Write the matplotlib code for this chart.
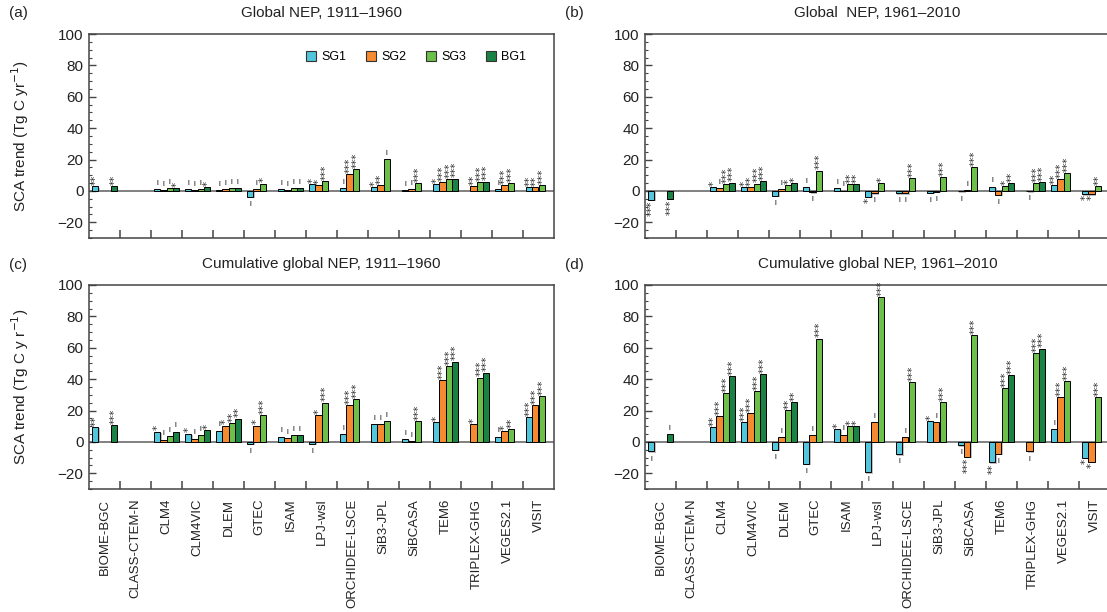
import matplotlib
matplotlib.use("Agg")
import matplotlib.pyplot as plt
import numpy as np
from matplotlib import patheffects as pe
from matplotlib.patches import Patch
from matplotlib.ticker import MultipleLocator

plt.rcParams['font.family'] = ['Liberation Sans', 'DejaVu Sans']

nan = np.nan

models = ["BIOME-BGC", "CLASS-CTEM-N", "CLM4", "CLM4VIC", "DLEM", "GTEC", "ISAM",
          "LPJ-wsl", "ORCHIDEE-LSCE", "SiB3-JPL", "SiBCASA", "TEM6", "TRIPLEX-GHG",
          "VEGES2.1", "VISIT"]
series = ["SG1", "SG2", "SG3", "BG1"]
colors = ["#52c6dc", "#f68a30", "#6cbf48", "#1b8246"]

# (a) Global NEP, 1911-1960
a_sg1 = [3.0, nan, 1.3, 1.3, 0.4, -3.6, 1.0, 4.3, 1.7, 2.4, 0.4, 4.3, nan, 1.3, 2.5]
a_sg2 = [nan, nan, 0.4, 0.6, 1.3, 1.3, 0.4, 4.0, 10.7, 3.6, 1.3, 5.6, 3.1, 4.0, 2.5]
a_sg3 = [nan, nan, 1.7, 1.3, 1.9, 4.7, 1.7, 6.3, 13.7, 20.5, 5.0, 7.4, 5.6, 4.9, 3.8]
a_bg1 = [3.0, nan, 2.1, 2.3, 1.9, nan, 1.7, nan, nan, nan, nan, 7.9, 6.0, nan, nan]
a_sg1_sig = ["**", "", "|", "|", "|", "|", "|", "*", "|", "*", "|", "*", "", "|", "**"]
a_sg2_sig = ["", "", "|", "|", "|", "|", "|", "*", "***", "**", "|", "***", "**", "***", "**"]
a_sg3_sig = ["", "", "|", "|", "|", "*", "|", "***", "***", "|", "***", "***", "***", "***", "***"]
a_bg1_sig = ["**", "", "*", "*", "|", "", "|", "", "", "", "", "***", "***", "", ""]

# (b) Global NEP, 1961-2010
b_sg1 = [-5.5, nan, 2.5, 2.5, -3.0, 2.3, 1.7, -3.6, -1.5, -1.1, -0.3, 2.8, nan, 3.6, -2.1]
b_sg2 = [nan, nan, 1.7, 2.5, 1.1, -0.8, 0.2, -1.5, -1.5, -0.6, 0.6, -2.5, -0.2, 7.6, -2.1]
b_sg3 = [nan, nan, 4.5, 4.7, 4.0, 13.0, 4.2, 5.1, 8.3, 8.9, 15.3, 3.2, 5.1, 11.5, 3.0]
b_bg1 = [-5.1, nan, 5.3, 6.4, 5.1, nan, 4.2, nan, nan, nan, nan, 5.1, 5.7, nan, nan]
b_sg1_sig = ["***", "", "*", "*", "|", "|", "|", "*", "|", "|", "|", "|", "", "**", "*"]
b_sg2_sig = ["", "", "|", "**", "|", "|", "|", "|", "|", "|", "|", "|", "|", "***", "*"]
b_sg3_sig = ["", "", "***", "***", "*", "***", "**", "*", "***", "***", "***", "*", "***", "***", "**"]
b_bg1_sig = ["***", "", "***", "***", "*", "", "**", "", "", "", "", "**", "***", "", ""]

# (c) Cumulative global NEP, 1911-1960
c_sg1 = [9.6, nan, 6.6, 5.3, 7.2, -1.1, 3.4, -1.1, 4.9, 11.3, 1.9, 12.5, nan, 3.4, 16.0]
c_sg2 = [nan, nan, 1.5, 2.1, 10.4, 10.4, 2.3, 17.4, 23.4, 11.3, 0.6, 39.3, 11.3, 6.8, 23.4]
c_sg3 = [nan, nan, 3.8, 4.5, 12.3, 17.4, 4.5, 25.1, 27.4, 13.4, 13.4, 48.6, 41.0, 8.3, 29.4]
c_bg1 = [11.0, nan, 6.6, 7.4, 14.9, nan, 4.5, nan, nan, nan, nan, 51.2, 44.2, nan, nan]
c_sg1_sig = ["**", "", "*", "*", "|", "|", "|", "|", "|", "|", "|", "*", "", "|", "***"]
c_sg2_sig = ["", "", "|", "|", "*", "*", "|", "*", "***", "|", "|", "***", "*", "*", "***"]
c_sg3_sig = ["", "", "|", "|", "**", "***", "|", "***", "***", "|", "***", "***", "***", "**", "***"]
c_bg1_sig = ["***", "", "|", "*", "**", "", "|", "", "", "", "", "***", "***", "", ""]

# (d) Cumulative global NEP, 1961-2010
d_sg1 = [-6.1, nan, 9.5, 12.9, -4.9, -13.8, 8.3, -19.3, -7.8, 13.3, -2.1, -12.9, nan, 8.1, -10.2]
d_sg2 = [nan, nan, 16.5, 18.4, 3.2, 4.4, 4.7, 12.5, 3.2, 12.5, -9.5, -7.4, -6.1, 28.4, -12.5]
d_sg3 = [nan, nan, 30.9, 32.4, 20.3, 65.9, 10.2, 92.4, 38.1, 25.4, 68.0, 34.5, 56.6, 38.8, 28.4]
d_bg1 = [4.9, nan, 41.9, 43.0, 25.4, nan, 10.2, nan, nan, nan, nan, 42.4, 59.5, nan, nan]
d_sg1_sig = ["|", "", "**", "***", "|", "|", "*", "|", "|", "*", "|", "**", "", "|", "*"]
d_sg2_sig = ["", "", "***", "***", "|", "|", "|", "|", "|", "|", "***", "|", "|", "***", "*"]
d_sg3_sig = ["", "", "***", "***", "**", "***", "*", "***", "***", "***", "***", "***", "***", "***", "***"]
d_bg1_sig = ["|", "", "***", "***", "**", "", "*", "", "", "", "", "***", "***", "", ""]

panels = [
    ("(a)", "Global NEP, 1911\u20131960", [a_sg1, a_sg2, a_sg3, a_bg1],
     [a_sg1_sig, a_sg2_sig, a_sg3_sig, a_bg1_sig], "SCA trend (Tg C yr$^{-1}$)"),
    ("(b)", "Global  NEP, 1961\u20132010", [b_sg1, b_sg2, b_sg3, b_bg1],
     [b_sg1_sig, b_sg2_sig, b_sg3_sig, b_bg1_sig], None),
    ("(c)", "Cumulative global NEP, 1911\u20131960", [c_sg1, c_sg2, c_sg3, c_bg1],
     [c_sg1_sig, c_sg2_sig, c_sg3_sig, c_bg1_sig], "SCA trend (Tg C y r$^{-1}$)"),
    ("(d)", "Cumulative global NEP, 1961\u20132010", [d_sg1, d_sg2, d_sg3, d_bg1],
     [d_sg1_sig, d_sg2_sig, d_sg3_sig, d_bg1_sig], None),
]

W, H = 1107, 612
fig = plt.figure(figsize=(W / 100, H / 100), dpi=100)

# axes boxes in pixels: left, top
boxes = [(89, 34), (645, 34), (89, 285), (645, 285)]
aw, ah = 465, 204

shadow = [pe.SimplePatchShadow(offset=(1.0, -1.0), shadow_rgbFace='0.55', alpha=0.55), pe.Normal()]
spine_col = '#444444'


def mark(ax, x, v, s):
    if not s or np.isnan(v):
        return
    up = v >= 0
    if s == "|":
        ax.annotate("|", (x, v), xytext=(0, 3 if up else -3), textcoords="offset points",
                    ha="center", va="bottom" if up else "top", fontsize=4.5,
                    fontweight="bold", color="#111111")
    else:
        ax.annotate(s, (x, v), xytext=(0.6, 0.8 if up else -0.8), textcoords="offset points",
                    rotation=90, ha="center", va="bottom" if up else "top",
                    fontsize=7.5, family="DejaVu Sans", color="#333333")


n = len(models)
centers = np.arange(n) + 0.5
bw = 0.2

for k, (letter, title, vals, sigs, ylab) in enumerate(panels):
    l, t = boxes[k]
    ax = fig.add_axes([l / W, 1 - (t + ah) / H, aw / W, ah / H])
    ax.axhline(0, color='#808080', lw=1.4, zorder=1)
    for i in range(4):
        v = np.array(vals[i], dtype=float)
        x = centers + (i - 1.5) * bw
        ok = ~np.isnan(v)
        ax.bar(x[ok], v[ok], width=bw, color=colors[i], edgecolor='black',
               linewidth=0.7, zorder=2, path_effects=shadow)
        for j in range(n):
            mark(ax, x[j], v[j], sigs[i][j])

    ax.set_xlim(0, n)
    ax.set_ylim(-30, 100)
    ax.set_yticks([-20, 0, 20, 40, 60, 80, 100])
    ax.yaxis.set_minor_locator(MultipleLocator(5))
    ax.tick_params(axis='y', which='major', direction='in', length=5, width=1,
                   labelsize=11, pad=4, colors=spine_col, labelcolor='#222222')
    ax.tick_params(axis='y', which='minor', direction='in', length=2.5, width=0.8,
                   colors=spine_col)
    ax.set_xticks(np.arange(1, n))
    ax.tick_params(axis='x', which='major', direction='in', length=6, width=1.1,
                   labelbottom=False, colors=spine_col)
    if k >= 2:
        ax.set_xticks(centers, models, minor=True)
        ax.tick_params(axis='x', which='minor', length=0, pad=7, labelsize=9.5,
                       labelrotation=90, labelcolor='#222222')
    for sp in ax.spines.values():
        sp.set_color(spine_col)
        sp.set_linewidth(1.1)

    ax.set_title(title, fontsize=11, pad=12, color='#222222')
    fig.text((l - 80) / W, 1 - (t - 16.5) / H, letter, fontsize=11, va='baseline',
             color='#222222')
    if ylab:
        ax.set_ylabel(ylab, fontsize=11, color='#222222')
        ax.yaxis.set_label_coords(-0.125, 0.5)

    if k == 0:
        handles = [Patch(facecolor=c, edgecolor='#333333', linewidth=0.8) for c in colors]
        ax.legend(handles, series, ncol=4, loc='center right', bbox_to_anchor=(0.94, 0.887),
                  frameon=False, handlelength=0.8, handleheight=0.8, handletextpad=0.4,
                  columnspacing=1.6, borderaxespad=0, borderpad=0, fontsize=9)

fig.savefig("out.png", dpi=100)
